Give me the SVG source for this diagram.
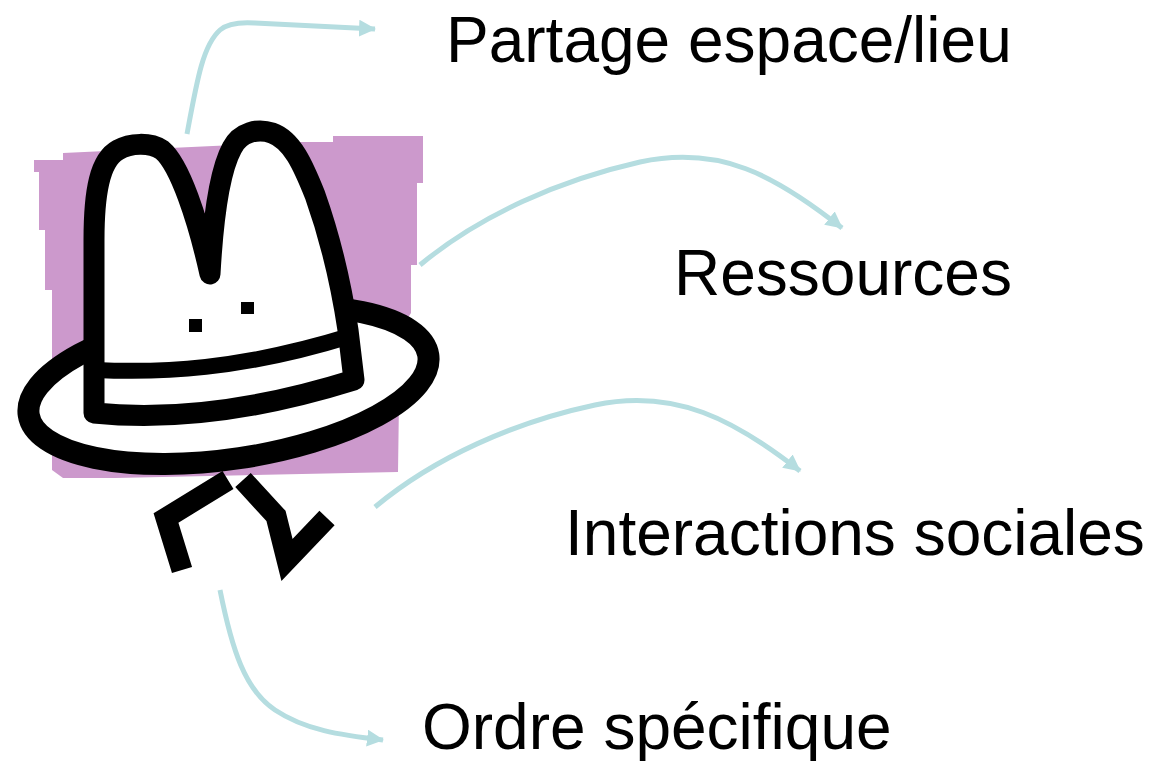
<svg xmlns="http://www.w3.org/2000/svg" width="1152" height="761" viewBox="0 0 1152 761">
  <style>
    .label { font-family: "Liberation Sans", Arial, sans-serif; font-size: 64px; fill: #000; }
    .link { fill: none; stroke: #b5dde0; stroke-width: 5; marker-end: url(#head); }
    .ink { fill: #fff; stroke: #000; stroke-linejoin: round; }
    .leg { fill: none; stroke: #000; stroke-width: 21; stroke-linejoin: miter; stroke-linecap: butt; }
  </style>
  <defs>
    <marker id="head" markerUnits="userSpaceOnUse" markerWidth="18" markerHeight="18" refX="16" refY="8.5" orient="auto">
      <path d="M0,0 L17,8.5 L0,17 Z" fill="#b5dde0"/>
    </marker>
  </defs>
  <rect width="1152" height="761" fill="#fff"/>

  <!-- walking hat figure -->
  <g id="hat">
    <path d="M34,160 L63,160 L63,153 L170,148 L300,142 L333,142 L333,136 L423,136 L423,183 L417,183 L417,265 L411,265 L411,313 L400,330 L398,472 L115,478 L63,478 L52,470 L52,290 L45,290 L45,230 L39,230 L39,172 L34,172 Z" fill="#cc99cc"/>
    <path class="leg" d="M228,480 L166,518 L182,570"/>
    <path class="leg" d="M243,480 L276,516 L287,560 L327,518"/>
    <ellipse class="ink" cx="228.5" cy="385" rx="202" ry="74" transform="rotate(-8.5 228.5 385)" stroke-width="22"/>
    <path class="ink" stroke-width="21" d="M94,413 L94,240 C94,190 100,160 118,150 C130,143 150,142 162,150 C180,165 198,220 210,274 C213,220 220,170 232,148 C240,132 258,128 272,133 C292,140 303,165 315,195 C331,240 342,290 348,330 L354,380 Q210,425 94,413 Z"/>
    <path d="M96,370 C160,373 240,370 350,336" fill="none" stroke="#000" stroke-width="16"/>
    <rect x="189" y="319" width="13" height="13" fill="#000"/>
    <rect x="241" y="302" width="13" height="12" fill="#000"/>
  </g>

  <!-- connectors -->
  <g id="connectors">
    <path class="link" d="M187,134 C197,80 203,45 220,30 C228,23 240,22 255,23 L375,29"/>
    <path class="link" d="M420,265 C480,215 560,180 640,162 C720,145 775,175 842,228"/>
    <path class="link" d="M375,507 C435,457 515,422 595,405 C675,388 735,420 800,471"/>
    <path class="link" d="M220,590 C232,650 245,690 275,710 C305,730 340,735 383,740"/>
  </g>

  <g id="node-partage"><text class="label" x="446" y="62">Partage espace/lieu</text></g>
  <g id="node-ressources"><text class="label" x="674" y="295">Ressources</text></g>
  <g id="node-interactions"><text class="label" x="565" y="555">Interactions sociales</text></g>
  <g id="node-ordre"><text class="label" x="422" y="749">Ordre spécifique</text></g>
</svg>
